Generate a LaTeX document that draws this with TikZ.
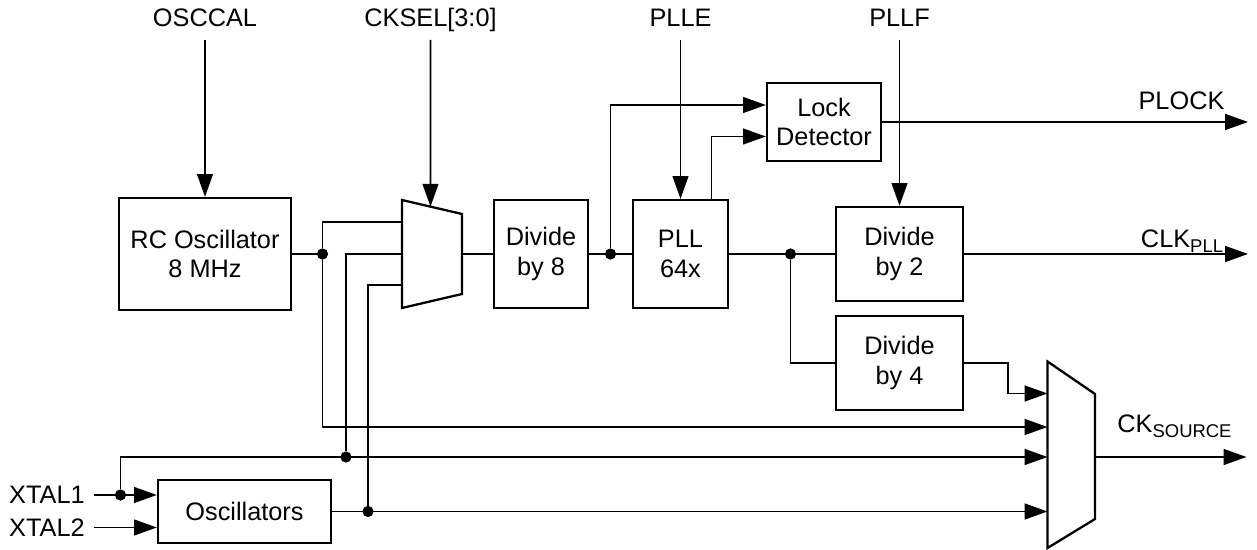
\documentclass[tikz,border=0pt]{standalone}
\usepackage{fontspec}
\setmainfont{Liberation Sans}
\usetikzlibrary{arrows.meta, calc, positioning}
\newcommand{\lblfont}{\fontsize{14.4}{17}\selectfont}
\newcommand{\subtxt}[1]{\raisebox{-0.3ex}{\fontsize{10.5}{10}\selectfont #1}}
\tikzset{
	blk/.style={draw, line width=1.3pt, align=center, font=\lblfont}
}
\tikzset{
	wire/.style={line width=1.05pt},
	sig/.style={wire, -{Triangle[length=13pt, width=9pt]}},
	dotj/.style={circle, fill, inner sep=0pt, minimum size=6.4pt},
	lbl/.style={font=\lblfont, inner sep=0pt}
}

\begin{document}
\begin{tikzpicture}
      \useasboundingbox (0,0) rectangle (25.14,11);
      % blocks
      \node[blk, minimum width=3.45cm, minimum height=2.24cm] (rc) at (4.10,5.92) {RC Oscillator\\8 MHz};
      \node[blk, minimum width=1.88cm, minimum height=2.16cm] (div8) at (10.82,5.92) {Divide\\by 8};
      \node[blk, minimum width=1.90cm, minimum height=2.16cm] (pll) at (13.61,5.92) {PLL\\64x};
      \node[blk, minimum width=2.28cm, minimum height=1.56cm] (lock) at (16.48,8.56) {Lock\\Detector};
      \node[blk, minimum width=2.54cm, minimum height=1.88cm] (div2) at (17.99,5.92) {Divide\\by 2};
      \node[blk, minimum width=2.54cm, minimum height=1.88cm] (div4) at (17.99,3.74) {Divide\\by 4};
      \node[blk, minimum width=3.46cm, minimum height=1.26cm] (osc) at (4.89,0.77) {Oscillators};
      % clock select muxes
      \coordinate (ma1) at (8.04,7.00);
      \coordinate (ma2) at (9.24,6.72);
      \coordinate (ma3) at (9.24,5.12);
      \coordinate (ma4) at (8.04,4.84);
      \draw[line width=1.3pt] (ma1) -- (ma2) -- (ma3) -- (ma4) -- cycle;
      \coordinate (mb1) at (20.95,3.77);
      \coordinate (mb2) at (21.90,3.12);
      \coordinate (mb3) at (21.90,0.62);
      \coordinate (mb4) at (20.95,0.04);
      \draw[line width=1.3pt] (mb1) -- (mb2) -- (mb3) -- (mb4) -- cycle;
      \foreach \n/\y in {1/6.56, 2/5.92, 3/5.30}
        \coordinate (ain\n) at (8.04,\y);
      \foreach \n/\y in {1/3.13, 2/2.46, 3/1.86, 4/0.77}
        \coordinate (bin\n) at (20.95,\y);
      \coordinate (aout) at (9.24,5.92);
      \coordinate (bout) at (21.90,1.86);
      \coordinate (asel) at ($(ma1)!0.475!(ma2)$);
      % control inputs on top
      \node[lbl, anchor=base] (osccal) at (4.10,10.46) {OSCCAL};
      \node[lbl, anchor=base] (cksel) at (8.61,10.46) {CKSEL[3:0]};
      \node[lbl, anchor=base] (plle) at (13.61,10.46) {PLLE};
      \node[lbl, anchor=base] (pllf) at (17.99,10.46) {PLLF};
      \draw[sig] ($(osccal.base)+(0,-0.26)$) -- (rc.north);
      \draw[sig] ($(cksel.base)+(0,-0.26)$) -- (asel);
      \draw[sig] ($(plle.base)+(0,-0.26)$) -- (pll.north);
      % crystal pins
      \node[lbl, anchor=east, inner xsep=0.18cm] (xtal1) at (1.88,1.10) {XTAL1};
      \node[lbl, anchor=east, inner xsep=0.18cm] (xtal2) at (1.88,0.45) {XTAL2};
      \draw[sig] (xtal1.east) -- (osc.west |- xtal1.east);
      \draw[sig] (xtal2.east) -- (osc.west |- xtal2.east);
      % junctions
      \node[dotj] (jrc) at (6.45,5.92) {};
      \node[dotj] (jx1) at (2.41,1.10) {};
      \node[dotj] (jx1b) at (6.92,1.86) {};
      \node[dotj] (josc) at (7.36,0.77) {};
      \node[dotj] (j8) at (12.21,5.92) {};
      \node[dotj] (jpll) at (15.81,5.92) {};
      % clock sources into the muxes
      \draw[wire] (rc.east) -- (jrc);
      \draw[wire] (jrc) |- (ain1);
      \draw[sig] (jrc) |- (bin2);
      \draw[sig] (jx1) |- (bin3);
      \draw[wire] (jx1b) |- (ain2);
      \draw[sig] (osc.east) -- (bin4);
      \draw[wire] (josc) |- (ain3);
      % pll chain
      \draw[wire] (aout) -- (div8.west);
      \draw[wire] (div8.east) -- (pll.west);
      \draw[sig] (j8) |- ($(lock.west)+(0,0.34)$);
      \draw[sig] ($(pll.north)+(0.62,0)$) |- ($(lock.west)+(0,-0.29)$);
      \draw[wire] (pll.east) -- (div2.west);
      \draw[wire] (jpll) |- (div4.west);
      \draw[sig] (div4.east) -| ($(bin1)+(-0.79,0)$) -- (bin1);
      % outputs
      \coordinate (plockend) at (24.96,8.56);
      \coordinate (clkend) at (24.96,5.92);
      \coordinate (ckend) at (24.93,1.86);
      \draw[sig] (lock.east) -- (plockend);
      \draw[sig] ($(pllf.base)+(0,-0.26)$) -- (div2.north);
      \draw[sig] (div2.east) -- (clkend);
      \draw[sig] (bout) -- (ckend);
      \node[lbl, anchor=base] (plocklbl) at (23.63,8.81) {PLOCK};
      \node[lbl, anchor=base] (clklbl) at (23.64,6.04) {CLK\subtxt{PLL}};
      \node[lbl, anchor=base] (cklbl) at (23.49,2.34) {CK\subtxt{SOURCE}};
    \end{tikzpicture}
\end{document}
